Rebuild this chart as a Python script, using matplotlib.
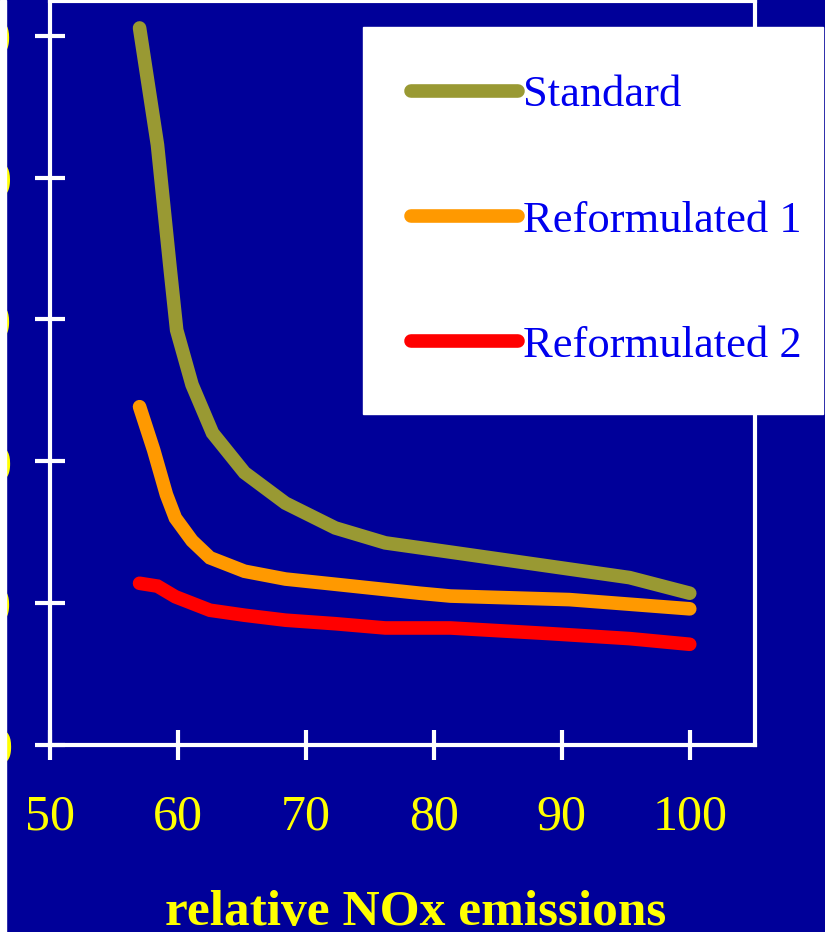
import matplotlib
matplotlib.use('Agg')
import matplotlib.pyplot as plt
from matplotlib.patches import Rectangle

# Daten
std_x = [57.0, 58.4, 59.4, 59.9, 61.1, 62.7, 65.2, 68.4, 72.3, 76.2, 81.3, 88.3, 95.3, 100]
std_y = [101.1, 84.6, 67.0, 58.5, 50.8, 44.0, 38.4, 34.1, 30.6, 28.5, 27.2, 25.4, 23.6, 21.4]

ref1_x = [57.0, 58.1, 59.1, 59.8, 61.1, 62.5, 65.2, 68.4, 72.1, 78.9, 81.3, 90.6, 100]
ref1_y = [47.7, 41.6, 35.3, 32.0, 28.8, 26.4, 24.5, 23.4, 22.7, 21.4, 21.0, 20.5, 19.2]

ref2_x = [57.0, 58.4, 59.8, 62.5, 65.2, 68.4, 72.3, 76.2, 81.3, 89.1, 95.3, 100]
ref2_y = [22.8, 22.4, 20.9, 19.0, 18.3, 17.6, 17.1, 16.5, 16.5, 15.7, 15.0, 14.2]

series_names = ['Standard', 'Reformulated 1', 'Reformulated 2']
series_colors = ['#999933', '#FF9900', '#FF0000']

x_ticks = [50, 60, 70, 80, 90, 100]
y_ticks = [0, 20, 40, 60, 80, 100]

bg = '#000099'
yellow = '#FFFF00'

plt.rcParams['font.family'] = ['Liberation Serif', 'DejaVu Serif']

fig = plt.figure(figsize=(8.25, 9.32), dpi=100)
fig.patch.set_facecolor(bg)
ax = fig.add_axes([50/825, 1 - 745/932, 705/825, 744/932])
ax.set_facecolor(bg)

for xs, ys, name, col in zip([std_x, ref1_x, ref2_x], [std_y, ref1_y, ref2_y], series_names, series_colors):
    ax.plot(xs, ys, color=col, lw=9.8, solid_capstyle='round', solid_joinstyle='miter', label=name)

ax.set_xlim(50, 105.1)
ax.set_ylim(0, 104.9)
ax.set_xticks(x_ticks)
ax.set_yticks(y_ticks)
ax.set_xticklabels([str(v) for v in x_ticks])
ax.set_yticklabels([str(v) for v in y_ticks])

for s in ax.spines.values():
    s.set_color('white')
    s.set_linewidth(3)
ax.tick_params(direction='inout', length=21, width=3, color='white',
               labelcolor=yellow, labelsize=36)
ax.tick_params(axis='x', pad=25)
ax.tick_params(axis='y', pad=17)

leg = ax.legend(loc='upper left', bbox_to_anchor=(363/825, 0.5, 460/825, 1 - 27/932 - 0.5),
                bbox_transform=fig.transFigure, mode='expand', borderaxespad=0,
                fontsize=32, frameon=True, fancybox=False, framealpha=1,
                handlelength=2.4, handletextpad=0.12, labelspacing=1.92, borderpad=1.08)
leg.get_frame().set_facecolor('white')
leg.get_frame().set_edgecolor('white')
for t in leg.get_texts():
    t.set_color('#0000EE')

fig.text(416/825, 7/932, 'relative NOx emissions', color=yellow, fontsize=37,
         fontweight='bold', ha='center', va='baseline')

# weisser Rand links
fig.add_artist(Rectangle((0, 0), 6/825, 1, transform=fig.transFigure,
                         color='white', zorder=10))

plt.savefig('out.png', dpi=100, facecolor=fig.get_facecolor())
